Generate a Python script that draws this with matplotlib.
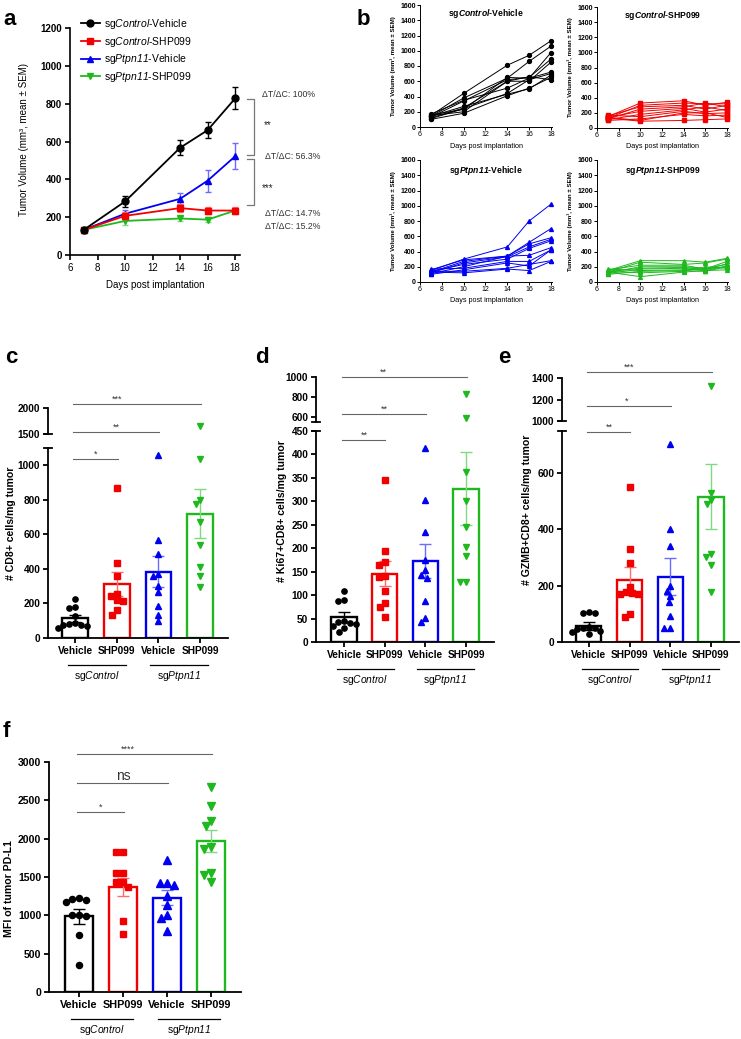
import numpy as np
import matplotlib
matplotlib.use("Agg")
import matplotlib.pyplot as plt
from matplotlib.lines import Line2D
import matplotlib.transforms as mtransforms

plt.rcParams['font.family'] = ['Liberation Sans', 'DejaVu Sans']
plt.rcParams['mathtext.fontset'] = 'custom'
plt.rcParams['mathtext.rm'] = 'Liberation Sans'
plt.rcParams['mathtext.it'] = 'Liberation Sans:italic'
plt.rcParams['mathtext.bf'] = 'Liberation Sans:bold'
plt.rcParams['mathtext.sf'] = 'Liberation Sans:italic'
plt.rcParams['mathtext.cal'] = 'Liberation Sans:italic:bold'

# ---------------- data ----------------
days = [7, 10, 14, 16, 18]

legend_labels = [r'sg$\mathsf{Control}$-Vehicle', r'sg$\mathsf{Control}$-SHP099',
                 r'sg$\mathsf{Ptpn11}$-Vehicle', r'sg$\mathsf{Ptpn11}$-SHP099']
b_titles = [r'sg$\mathcal{Control}$-Vehicle', r'sg$\mathcal{Control}$-SHP099',
            r'sg$\mathcal{Ptpn11}$-Vehicle', r'sg$\mathcal{Ptpn11}$-SHP099']

# panel a: mean and SEM
ctrl_veh_mean = [133, 283, 567, 660, 828]
ctrl_veh_sem = [8, 27, 40, 42, 58]
ctrl_shp_mean = [133, 207, 248, 235, 235]
ctrl_shp_sem = [8, 18, 22, 18, 18]
ptpn_veh_mean = [133, 218, 297, 393, 522]
ptpn_veh_sem = [8, 20, 30, 58, 68]
ptpn_shp_mean = [133, 180, 193, 187, 235]
ptpn_shp_sem = [8, 20, 15, 15, 15]

delta_labels = ['ΔT/ΔC: 100%', 'ΔT/ΔC: 56.3%', 'ΔT/ΔC: 14.7%', 'ΔT/ΔC: 15.2%']

# panel b: individual mice
ctrl_veh_ind = [
    [150, 440, 810, 940, 1130],
    [140, 380, 640, 860, 1060],
    [160, 230, 650, 640, 975],
    [130, 340, 620, 650, 890],
    [120, 250, 600, 600, 850],
    [170, 350, 510, 640, 720],
    [110, 240, 440, 620, 700],
    [140, 270, 430, 500, 680],
    [100, 180, 410, 510, 650],
    [150, 200, 600, 660, 620]]
ctrl_shp_ind = [
    [150, 330, 360, 300, 340],
    [130, 300, 330, 320, 320],
    [160, 280, 300, 250, 300],
    [120, 250, 280, 330, 280],
    [140, 220, 260, 210, 250],
    [110, 180, 240, 280, 230],
    [170, 150, 220, 190, 200],
    [100, 120, 180, 160, 170],
    [140, 100, 200, 200, 140],
    [130, 90, 100, 110, 120]]
ptpn_veh_ind = [
    [150, 300, 460, 800, 1020],
    [130, 270, 340, 520, 700],
    [160, 290, 340, 500, 580],
    [120, 250, 330, 460, 560],
    [140, 230, 300, 440, 540],
    [110, 200, 340, 350, 450],
    [170, 180, 270, 270, 420],
    [100, 160, 250, 210, 420],
    [140, 140, 180, 230, 280],
    [130, 120, 170, 150, 270]]
ptpn_shp_ind = [
    [150, 280, 280, 260, 310],
    [130, 260, 230, 250, 300],
    [160, 220, 220, 170, 270],
    [120, 200, 200, 180, 230],
    [140, 180, 190, 160, 240],
    [110, 170, 180, 150, 210],
    [170, 150, 160, 170, 200],
    [100, 140, 150, 140, 200],
    [140, 120, 140, 200, 180],
    [130, 70, 130, 150, 160]]

# bar panels
cat_labels = ['Vehicle', 'SHP099', 'Vehicle', 'SHP099']
genotype_labels = [r'sg$\mathsf{Control}$', r'sg$\mathsf{Ptpn11}$']

c_cd8 = [
    [226, 174, 178, 126, 87, 77, 73, 58, 68, 83],
    [869, 435, 361, 257, 241, 218, 215, 160, 135],
    [1060, 570, 487, 360, 370, 300, 265, 187, 135, 97],
    [1660, 1035, 798, 773, 670, 541, 411, 357, 296]]
c_mean = [115, 312, 383, 720]
c_sem = [20, 68, 90, 143]

d_ki67 = [
    [108, 88, 90, 45, 40, 38, 42, 30, 22, 35],
    [345, 194, 170, 164, 140, 138, 109, 84, 75, 54],
    [413, 303, 235, 175, 153, 143, 136, 88, 51, 42],
    [830, 595, 362, 300, 245, 203, 184, 127, 128]]
d_mean = [53, 146, 173, 327]
d_sem = [10, 26, 37, 78]

e_gzmb = [
    [108, 104, 104, 52, 50, 48, 45, 40, 35, 27],
    [550, 329, 280, 195, 177, 171, 174, 170, 89, 101],
    [704, 403, 342, 198, 180, 162, 141, 94, 48, 48],
    [1324, 529, 505, 489, 313, 301, 272, 177]]
e_mean = [57, 222, 232, 517]
e_sem = [13, 44, 65, 117]

f_pdl1 = [
    [1225, 1210, 1200, 1170, 1010, 990, 1000, 740, 355],
    [1830, 1830, 1550, 1550, 1440, 1430, 1370, 930, 760],
    [1720, 1420, 1420, 1400, 1250, 1140, 1000, 960, 790],
    [2680, 2420, 2230, 2170, 1890, 1870, 1550, 1520, 1430]]
f_mean = [985, 1365, 1232, 1965]
f_sem = [95, 118, 98, 145]

# ---------------- styles ----------------
colors = ['#000000', '#f20000', '#0000f0', '#1fb81f']
err_colors = ['#000000', '#ff6b6b', '#6b6bff', '#80d880']
markers_a = ['o', 's', '^', 'v']
markers_b = ['o', 's', '^', '^']

W, H = 741, 1039
fig = plt.figure(figsize=(W / 100, H / 100), dpi=100)
fig.patch.set_facecolor('white')


def P(l, t, r, b):
    return [l / W, 1 - b / H, (r - l) / W, (b - t) / H]


def FT(x, y, s, **kw):
    return fig.text(x / W, 1 - y / H, s, **kw)


def style_axes(ax, lw=1.2, tl=3.5):
    for sp in ['top', 'right']:
        ax.spines[sp].set_visible(False)
    for sp in ['left', 'bottom']:
        ax.spines[sp].set_linewidth(lw)
    ax.tick_params(direction='out', length=tl, width=lw, pad=2)


# ---------------- panel a ----------------
axa = fig.add_axes(P(70, 28, 240, 255))
a_means = [ctrl_veh_mean, ctrl_shp_mean, ptpn_veh_mean, ptpn_shp_mean]
a_sems = [ctrl_veh_sem, ctrl_shp_sem, ptpn_veh_sem, ptpn_shp_sem]
handles = []
for k in [3, 2, 1, 0]:
    axa.errorbar(days, a_means[k], yerr=a_sems[k], fmt='none', ecolor=err_colors[k],
                 elinewidth=1.0, capsize=2.5, capthick=1.0, zorder=2 + (3 - k) * 0.2)
    axa.plot(days, a_means[k], color=colors[k], marker=markers_a[k], ms=5, lw=1.3,
             zorder=2.1 + (3 - k) * 0.2, clip_on=False)
for k in range(4):
    handles.append(Line2D([], [], color=colors[k], marker=markers_a[k], ms=5, lw=1.3))
axa.set_xlim(6, 18.35)
axa.set_ylim(0, 1200)
style_axes(axa)
axa.set_xticks(range(6, 19, 2), labels=[str(v) for v in range(6, 19, 2)], fontsize=7)
axa.set_yticks(range(0, 1201, 200), labels=[str(v) for v in range(0, 1201, 200)],
               fontsize=7, fontweight='bold')
axa.legend(handles, legend_labels, loc='upper left', bbox_to_anchor=(81 / W, 1 - 17 / H),
           bbox_transform=fig.transFigure, frameon=False, fontsize=7.5, handlelength=1.8,
           handletextpad=0.4, labelspacing=0.35, borderpad=0, borderaxespad=0)
FT(24, 140, 'Tumor Volume (mm³, mean ± SEM)', rotation=90, ha='center', va='center', fontsize=7)
FT(155, 285, 'Days post implantation', ha='center', va='center', fontsize=7)

# brackets
brk_col = '#777777'
for (y0, y1) in [(825, 529), (507, 264)]:
    axa.plot([18.85, 19.36, 19.36, 18.85], [y0, y0, y1, y1], color=brk_col, lw=0.9, clip_on=False)
axa.text(20.38, 687, '**', ha='center', va='center', fontsize=7, color='#222222')
axa.text(20.38, 354, '***', ha='center', va='center', fontsize=7, color='#222222')
for (xx, yy), s in zip([(19.94, 851), (20.16, 523), (20.16, 222), (20.16, 153)], delta_labels):
    axa.text(xx, yy, s, ha='left', va='center', fontsize=6.3, color='#333333')

# ---------------- panel b ----------------
b_sets = [ctrl_veh_ind, ctrl_shp_ind, ptpn_veh_ind, ptpn_shp_ind]
b_boxes = [(420, 5, 552, 127), (597, 7, 728, 128), (420, 160, 552, 282), (597, 160, 728, 282)]
b_title_xy = [(486, 13), (663, 15), (486, 170), (663, 170)]
b_ylab_xy = [(393, 66), (570, 67), (393, 221), (570, 221)]
b_xlab_xy = [(486, 146), (662, 146), (486, 300), (662, 300)]
for k in range(4):
    ax = fig.add_axes(P(*b_boxes[k]))
    for mouse in b_sets[k]:
        ax.plot(days, mouse, color=colors[k], marker=markers_b[k], ms=2.8, lw=0.7, clip_on=False)
    ax.set_xlim(6, 18.1)
    ax.set_ylim(0, 1600)
    style_axes(ax, lw=0.7, tl=2)
    ax.tick_params(pad=1)
    ax.set_xticks(range(6, 19, 2), labels=[str(v) for v in range(6, 19, 2)], fontsize=5)
    ax.set_yticks(range(0, 1601, 200), labels=[str(v) for v in range(0, 1601, 200)],
                  fontsize=5, fontweight='bold')
    FT(*b_title_xy[k], b_titles[k], ha='center', va='center', fontsize=6.2, fontweight='bold')
    FT(*b_ylab_xy[k], 'Tumor Volume (mm³, mean ± SEM)', rotation=90, ha='center', va='center',
       fontsize=4.4, fontweight='bold')
    FT(*b_xlab_xy[k], 'Days post implantation', ha='center', va='center', fontsize=5.2)


# ---------------- bar panels ----------------
def swarm_x(ax, xc, vals, diam):
    vals = np.asarray(vals, dtype=float)
    if len(vals) == 0:
        return np.array([])
    disp = ax.transData.transform(np.column_stack([np.full(len(vals), xc), vals]))
    ys = disp[:, 1]
    x0 = disp[0, 0]
    order = np.argsort(-ys)
    placed = []
    xs = np.zeros(len(vals))
    for i in order:
        y = ys[i]
        cands = [0.0]
        for (px, py) in placed:
            dy = abs(py - y)
            if dy < diam:
                dx = np.sqrt(diam ** 2 - dy ** 2)
                cands += [px + dx, px - dx]
        cands = sorted(cands, key=lambda c: (abs(c), c))
        for c in cands:
            if all((c - px) ** 2 + (y - py) ** 2 >= diam ** 2 - 1e-6 for px, py in placed):
                xs[i] = c
                break
        placed.append((xs[i], y))
    data = ax.transData.inverted().transform(np.column_stack([x0 + xs, ys]))
    return data[:, 0]


def bar_panel(lo_box, up_box, lo_lim, up_lim, lo_ticks, up_ticks, data, means, sems, sigs,
              ylabel, ylab_xy, xlim, ms, fs_tick=7.3, fs_cat=7.3):
    axl = fig.add_axes(P(*lo_box))
    axl.set_xlim(*xlim)
    axl.set_ylim(*lo_lim)
    style_axes(axl, lw=1.3, tl=3.5)
    axu = None
    if up_box is not None:
        axu = fig.add_axes(P(*up_box))
        axu.set_xlim(*xlim)
        axu.set_ylim(*up_lim)
        style_axes(axu, lw=1.3, tl=3.5)
        axu.spines['bottom'].set_visible(False)
        axu.set_xticks([])
        axu.set_yticks(up_ticks, labels=[str(v) for v in up_ticks], fontsize=fs_tick,
                       fontweight='bold')
        axu.patch.set_alpha(0)
        wpx = up_box[2] - up_box[0]
        axu.plot([-4 / wpx, 4 / wpx], [0, 0], transform=axu.transAxes, color='k', lw=1.3,
                 clip_on=False)
        wpx = lo_box[2] - lo_box[0]
        axl.plot([-4 / wpx, 4 / wpx], [1, 1], transform=axl.transAxes, color='k', lw=1.3,
                 clip_on=False)
    xs = np.arange(4)
    axl.set_xticks(xs, labels=cat_labels, fontsize=fs_cat, fontweight='bold')
    axl.set_yticks(lo_ticks, labels=[str(v) for v in lo_ticks], fontsize=fs_tick,
                   fontweight='bold')
    axl.bar(xs, means, width=0.62, facecolor='none', edgecolor=colors, linewidth=1.7, zorder=2)
    diam = ms * 100 / 72 * 1.15
    for k in range(4):
        axl.errorbar(k, means[k], yerr=sems[k], fmt='none', ecolor=err_colors[k],
                     elinewidth=1.0, capsize=4.5, capthick=1.0, zorder=3)
        vals = np.asarray(data[k], dtype=float)
        lo_vals = vals[vals <= lo_lim[1]]
        hi_vals = vals[vals > lo_lim[1]]
        mk = markers_a[k]
        mss = ms * (1.15 if mk in ('^', 'v') else 1.0)
        xx = swarm_x(axl, k, lo_vals, diam)
        axl.plot(xx, lo_vals, ls='none', marker=mk, color=colors[k], ms=mss, zorder=4,
                 clip_on=False)
        if len(hi_vals) and axu is not None:
            xx = swarm_x(axu, k, hi_vals, diam)
            axu.plot(xx, hi_vals, ls='none', marker=mk, color=colors[k], ms=mss, zorder=4,
                     clip_on=False)
    # genotype group labels
    l, t, r, b = lo_box
    h = b - t
    trans = mtransforms.blended_transform_factory(axl.transData, axl.transAxes)
    for (x0, x1), lab in zip([(-0.17, 1.22), (1.8, 3.2)], genotype_labels):
        axl.plot([x0, x1], [-27 / h] * 2, transform=trans, color='k', lw=0.9, clip_on=False)
        axl.text((x0 + x1) / 2, -38 / h, lab, transform=trans, ha='center', va='center',
                 fontsize=7.4)
    # significance
    for (i, j, y, s, where, tx) in sigs:
        ax = axu if where == 'u' else axl
        ax.plot([i - 0.05, j + 0.02], [y, y], color='#666666', lw=0.8, clip_on=False, zorder=5)
        fs = 10 if s == 'ns' else 6.5
        off = mtransforms.offset_copy(ax.transData, fig=fig, y=0.3, units='points')
        ax.text(tx, y, s, ha='center', va='bottom', fontsize=fs, color='#333333',
                transform=off)
    FT(*ylab_xy, ylabel, rotation=90, ha='center', va='center', fontsize=7.6,
       fontweight='bold')
    return axl, axu


# panel c
bar_panel((48, 448, 228, 638), (48, 408, 228, 434), (0, 1100), (1500, 2000),
          list(range(0, 1001, 200)), [1500, 2000], c_cd8, c_mean, c_sem,
          [(0, 1, 1038, '*', 'l', 0.5), (0, 2, 1540, '**', 'u', 1.0),
           (0, 3, 2080, '***', 'u', 1.0)],
          '# CD8+ cells/mg tumor', (11, 523), (-0.65, 3.67), ms=3.8)
# panel d
bar_panel((316, 431, 494, 642), (316, 377, 494, 422), (0, 450), (550, 1000),
          list(range(0, 451, 50)), [600, 800, 1000], d_ki67, d_mean, d_sem,
          [(0, 1, 431, '**', 'l', 0.5), (0, 2, 630, '**', 'u', 1.0),
           (0, 3, 1000, '**', 'u', 0.96)],
          '# Ki67+CD8+ cells/mg tumor', (282, 511), (-0.69, 3.69), ms=3.8)
# panel e
bar_panel((562, 431, 739, 642), (562, 378, 739, 421), (0, 750), (1000, 1400),
          [0, 200, 400, 600], [1000, 1200, 1400], e_gzmb, e_mean, e_sem,
          [(0, 1, 746, '**', 'l', 0.5), (0, 2, 1140, '*', 'u', 0.92),
           (0, 3, 1456, '***', 'u', 1.0)],
          '# GZMB+CD8+ cells/mg tumor', (527, 510), (-0.66, 3.69), ms=3.8)
# panel f
bar_panel((49, 762, 241, 992), None, (0, 3000), None,
          list(range(0, 3001, 500)), None, f_pdl1, f_mean, f_sem,
          [(0, 1, 2348, '*', 'l', 0.5), (0, 2, 2726, 'ns', 'l', 1.0),
           (0, 3, 3104, '****', 'l', 1.1)],
          'MFI of tumor PD-L1', (9, 889), (-0.68, 3.68), ms=4.4, fs_tick=7.6, fs_cat=7.8)

# panel letters
for s, (x, y) in zip('abcdef', [(3, 25), (357, 25), (5, 363), (255, 363), (498, 363), (3, 737)]):
    FT(x, y, s, fontsize=16, fontweight='bold', ha='left', va='baseline')

fig.savefig('out.png', dpi=100, facecolor='white')
